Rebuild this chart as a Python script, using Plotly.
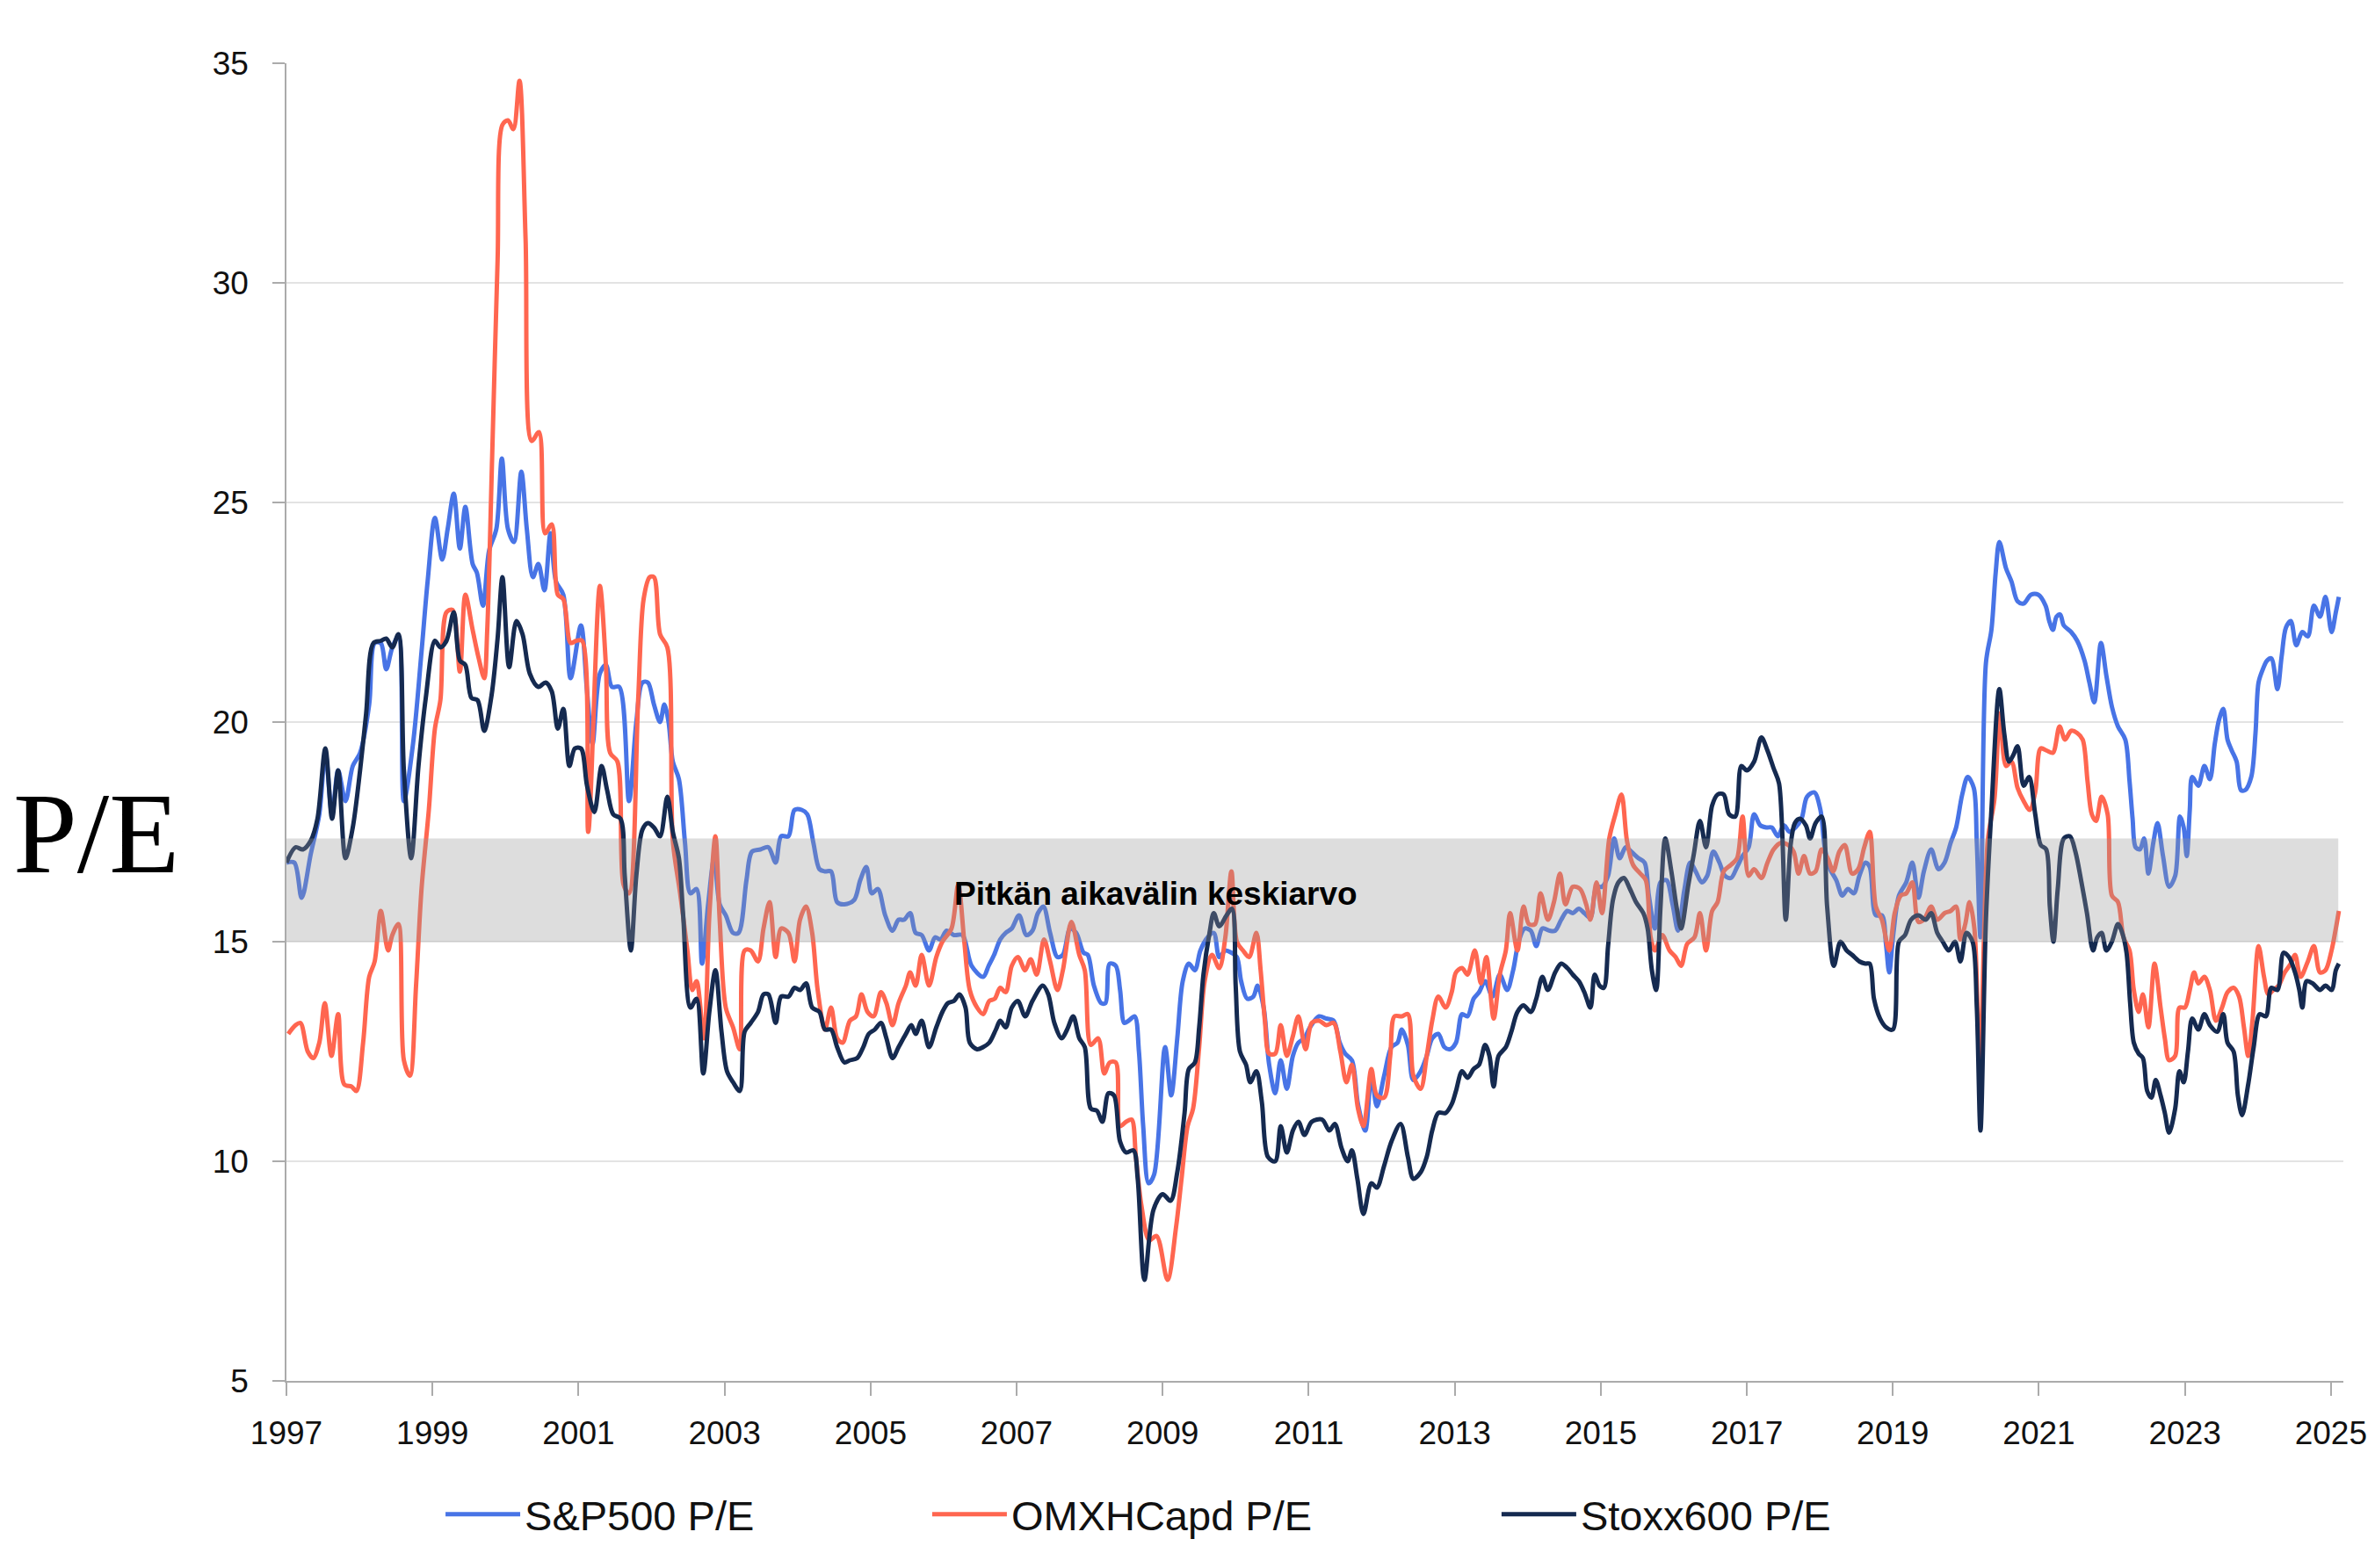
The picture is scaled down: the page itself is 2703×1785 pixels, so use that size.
import plotly.graph_objects as go

# ---- data (months since Jan 1997, P/E values) ----
sp_m = [0, 1.3, 2.5, 4, 5.4, 6.4, 7.5, 8.5, 9.7, 10.9, 12.1, 13.6, 14.5, 15.5, 16.4, 17.4, 18.4, 19.3, 20.8, 22.2,
        23.2, 24.4, 25.6, 26.5, 27.5, 28.5, 29.4, 30.6, 31.3, 32.3, 33.3, 34.5, 35.4, 36.4, 37.4, 38.6, 39.5, 40.5,
        41.4, 42.4, 43.4, 44.3, 45.5, 46.7, 48.4, 49.4, 50.3, 51.5, 52.5, 53.5, 54.7, 56.3, 57.5, 58.5, 59.4, 60.4,
        61.4, 62.1, 62.8, 63.5, 64.5, 65.5, 66.4, 67.4, 68.3, 69.3, 70.3, 71.2, 72.2, 73.4, 74.3, 75.6, 76.5, 77.9,
        79.2, 80.4, 81.3, 82.5, 83.5, 84.7, 85.6, 86.6, 87.6, 88.5, 89.5, 90.5, 91.7, 93.3, 94.3, 95.3, 96.2, 97.2,
        98.4, 99.6, 100.6, 101.5, 102.5, 103.4, 104.4, 105.6, 106.6, 107.5, 108.5, 109.7, 111.1, 112.6, 114.5, 115.4,
        116.3, 117.3, 118.2, 119.2, 120.4, 121.6, 122.6, 123.5, 124.4, 125.5, 126.7, 127.6, 128.8, 129.8, 131, 131.7,
        132.7, 133.9, 134.6, 135.3, 136.3, 137, 137.7, 138.4, 139.4, 140.1, 140.8, 141.7, 142.6, 144.4, 145.4, 146.4,
        147.3, 148.3, 149.3, 150.2, 151.4, 152.4, 153.3, 154.3, 155.3, 156.2, 156.9, 157.9, 158.9, 159.6, 160.6, 161.5,
        162.5, 163.4, 164.4, 165.4, 166.3, 167.3, 168.2, 169.7, 170.9, 172.1, 173.1, 174, 175.1, 176.1, 177.3, 178.3,
        179.2, 180.4, 181.6, 182.6, 183.3, 184.3, 185.2, 186.4, 187.4, 188.3, 189.3, 190.3, 191.2, 192.2, 193.2, 194.1,
        195.1, 196, 197, 198.2, 199.4, 200.6, 201.6, 202.5, 203.5, 204.5, 205.4, 206.4, 207.6, 208.5, 209.5, 210.5,
        211.4, 212.4, 213.3, 214.3, 215.3, 216.2, 217.2, 218.2, 219.1, 220.1, 221, 222.2, 223.2, 223.9, 224.9, 225.8,
        226.8, 227.8, 228.7, 229.7, 230.7, 231.6, 232.6, 233.5, 234.5, 235.5, 236.4, 237.4, 238.4, 239.3, 240.3, 241.2,
        242.2, 243.2, 244.1, 245.1, 246.1, 247, 248, 249, 249.9, 251.1, 252.1, 252.8, 253.7, 254.7, 255.7, 256.6,
        257.6, 258.5, 259.5, 260.2, 261.2, 262.2, 262.9, 263.4, 264.1, 265, 266.2, 267.2, 268.2, 269.1, 270.3, 271.5,
        272.5, 273.5, 274.4, 275.4, 276.3, 277.3, 277.8, 278.4, 279.3, 280.2, 280.9, 281.5, 282.6, 283.5, 284.5, 285.5,
        286.7, 287.9, 289.1, 289.7, 290.3, 290.9, 291.5, 292.1, 293.3, 294.3, 295.5, 296.3, 297.1, 298.2, 299.1, 300,
        301, 302.2, 302.9, 303.4, 303.9, 304.6, 305.3, 306, 306.8, 307.5, 308.4, 309.4, 310.4, 311.2, 311.8, 312.3,
        312.8, 313.2, 314.2, 315.2, 316.1, 316.9, 317.6, 318.3, 319.0, 319.7, 320.5, 321.2, 321.9, 322.9, 323.6, 324.1,
        324.8, 325.5, 326.2, 327.2, 327.9, 328.6, 329.4, 330.3, 331.3, 332.2, 333.2, 334.2, 335.1, 336.1, 336.8, 337.3]
sp_v = [16.8, 16.8, 16.0, 17.0, 17.9, 19.3, 17.9, 18.9, 18.2, 19.0, 19.3, 20.4, 21.8, 21.8, 21.2, 21.7, 21.95, 18.2, 19.5, 21.6,
        23.2, 24.65, 23.7, 24.4, 25.2, 23.95, 24.9, 23.6, 23.4, 22.65, 23.9, 24.4, 26.0, 24.4, 24.1, 25.7, 24.4, 23.3,
        23.6, 23.0, 24.3, 23.2, 22.9, 21.0, 22.2, 20.7, 19.5, 21.1, 21.3, 20.8, 20.8, 18.2, 20.0, 20.9, 20.9, 20.4,
        20.0, 20.4, 20.0, 19.1, 18.7, 17.25, 16.1, 16.2, 14.5, 15.85, 16.9, 15.85, 15.6, 15.2, 15.2, 16.4, 17.05, 17.1,
        17.15, 16.8, 17.4, 17.4, 18.0, 18.0, 17.9, 17.25, 16.65, 16.6, 16.6, 15.9, 15.85, 15.95, 16.4, 16.7, 16.1, 16.2,
        15.6, 15.25, 15.5, 15.5, 15.65, 15.2, 15.15, 14.8, 15.1, 15.05, 15.25, 15.15, 15.15, 14.45, 14.2, 14.45,
        14.7, 15.05, 15.2, 15.3, 15.6, 15.15, 15.25, 15.65, 15.8, 15.2, 14.65, 14.7, 15.3, 15.2, 14.75, 14.7,
        14.0, 13.6, 13.6, 14.5, 14.45, 13.9, 13.15, 13.2, 13.3, 12.5, 10.8, 9.5, 9.7, 12.6, 11.5, 12.8,
        14.1, 14.5, 14.35, 14.8, 15.1, 15.2, 14.65, 14.8, 14.75, 14.65, 14.1, 13.7, 13.75, 14.0, 13.5, 12.2,
        11.55, 12.3, 11.65, 12.4, 12.7, 12.8, 13.05, 13.3, 13.25, 13.2, 12.7, 12.45, 12.3, 11.3, 10.7, 11.95,
        11.25, 11.95, 12.6, 12.7, 13.0, 12.65, 11.85, 12.05, 12.4, 12.8, 12.9, 12.6, 12.55, 12.7, 13.35, 13.3,
        13.7, 13.85, 14.1, 13.75, 14.25, 13.9, 14.35, 15.0, 15.3, 15.25, 14.9, 15.3, 15.25, 15.25, 15.5, 15.7,
        15.65, 15.75, 15.65, 15.55, 16.25, 16.25, 16.5, 17.35, 16.9, 17.15, 17.05, 16.9, 16.8, 16.05, 15.3, 16.35,
        16.4, 15.85, 15.25, 16.15, 16.8, 16.6, 16.35, 16.5, 17.05, 16.8, 16.5, 16.45, 16.7, 16.95, 17.15, 17.9,
        17.65, 17.6, 17.6, 17.4, 17.65, 17.5, 17.6, 17.8, 18.3, 18.4, 18.0, 17.15, 16.65, 16.4, 16.05, 16.2,
        16.1, 16.5, 16.8, 16.7, 15.6, 15.6, 14.9, 14.3, 15.2, 16.05, 16.35, 16.8, 16.0, 16.6, 17.1, 16.65,
        16.8, 17.25, 17.6, 18.35, 18.75, 18.5, 17.25, 15.1, 21.35, 22.1, 23.4, 24.1, 23.5, 23.2, 22.75, 22.7,
        22.9, 22.9, 22.65, 22.3, 22.1, 22.4, 22.45, 22.2, 22.05, 21.85, 21.4, 20.9, 20.45, 21.8, 21.05, 20.35,
        19.9, 19.6, 18.65, 17.8, 17.15, 17.1, 17.35, 16.55, 17.25, 17.7, 16.95, 16.25, 16.5, 17.85, 17.6, 16.95,
        18.0, 18.75, 18.55, 19.0, 18.7, 19.5, 20.05, 20.3, 19.6, 19.35, 19.1, 18.45, 18.45, 18.75, 19.75, 20.9,
        21.2, 21.4, 21.45, 20.75, 21.5, 22.15, 22.3, 21.75, 22.05, 21.95, 22.65, 22.4, 22.85, 22.05, 22.5, 22.85]

omx_m = [0.3, 1.5, 2.3, 3.5, 4.4, 5.4, 6.3, 7.4, 8.5, 9.5, 10.7, 11.5, 12.6, 13.6, 14.5, 15.5, 16.7, 17.4, 18.4, 19.3,
         20.3, 21.3, 22.2, 23.4, 24.4, 25.3, 26.3, 27.3, 28.5, 29.4, 30.6, 31.6, 32.5, 33.0, 33.8, 34.7, 35.5, 36.4,
         37.3, 38.3, 39.3, 40.3, 41.5, 42.5, 43.6, 44.6, 45.5, 46.7, 47.6, 48.6, 49.6, 51.5, 52.5, 53.2, 54.4, 55.4,
         56.3, 57.8, 58.7, 59.7, 60.4, 61.4, 62.6, 63.5, 64.7, 65.9, 66.7, 67.4, 68.6, 69.5, 70.5, 71.2, 72.2, 73.4,
         74.5, 75.3, 76.3, 77.5, 78.4, 79.4, 80.4, 81.3, 82.5, 83.5, 84.4, 85.4, 86.4, 87.3, 88.5, 89.5, 90.5, 91.4,
         92.6, 93.6, 94.5, 95.5, 96.5, 97.7, 98.6, 99.6, 100.6, 101.8, 102.5, 103.4, 104.4, 105.6, 106.8, 107.8, 109.3,
         110.4, 111.4, 112.3, 113.5, 114.5, 115.5, 116.4, 117.3, 118.2, 119.2, 120.2, 121.4, 122.3, 123.3, 124.5, 125.5,
         126.7, 127.6, 129.0, 130.3, 131.2, 132.2, 133.4, 134.4, 135.3, 136.3, 137, 138, 138.9, 139.6, 140.5, 141.8,
         143.0, 144.8, 146.2, 147.1, 148.1, 149, 150, 150.9, 152.1, 153.3, 154.3, 155.3, 156.2, 157.2, 158.2, 159.4,
         160.1, 160.8, 161.5, 162.5, 163.4, 164.4, 165.4, 166.3, 167.5, 168.5, 169.7, 170.9, 172.1, 173.2, 174.2, 175.1,
         176.1, 177, 178.3, 179.2, 180.4, 181.4, 182.1, 183.3, 184.3, 185.2, 186.4, 187.4, 188.3, 189.3, 190.5, 191.5,
         192.2, 193.2, 194.1, 195.3, 196.3, 197.2, 198.4, 199.4, 200.4, 201.1, 202.3, 203.3, 204.2, 205.2, 206.1, 207.3,
         208.3, 209.3, 210.2, 211.4, 212.6, 213.6, 214.3, 215.3, 216.2, 217.4, 218.4, 219.4, 220.3, 221.3, 222.5, 223.4,
         224.2, 224.9, 226.1, 227.3, 228.3, 229.2, 230.2, 231.4, 232.3, 233.3, 234.3, 235.2, 236.2, 237.4, 238.4, 239.3,
         240.3, 241.2, 242.4, 243.4, 244.4, 245.6, 246.8, 247.7, 248.5, 249.4, 250.4, 251.3, 252.3, 253.3, 254.2, 255.2,
         256.1, 257.3, 258.3, 259.3, 260.2, 261.2, 262.2, 263.4, 264.3, 265.3, 266.2, 267.2, 268.2, 269.1, 270.3, 271.3,
         272.5, 273.5, 274.4, 275.1, 275.9, 276.6, 277.4, 278.3, 279.6, 280.7, 281.6, 282.6, 283.5, 284.5, 285.5, 286.5,
         287.4, 288.3, 289.3, 290.3, 291.4, 292.3, 293.3, 294.3, 295.2, 296.0, 296.7, 297.4, 298.3, 299.3, 300.0, 301.0,
         301.9, 302.9, 303.6, 304.4, 305.1, 306.0, 307.0, 308.0, 308.7, 309.4, 310.4, 311.1, 312.0, 312.8, 313.5, 314.2,
         315.2, 316.1, 317.1, 318.1, 319.0, 320.0, 320.9, 321.7, 322.4, 323.1, 324.1, 325.0, 325.7, 326.5, 327.4, 328.4,
         329.4, 330.1, 331.0, 332.2, 333.2, 334.2, 335.1, 336.1, 336.8, 337.3]
omx_v = [12.9, 13.1, 13.15, 12.5, 12.35, 12.7, 13.6, 12.4, 13.35, 11.75, 11.7, 11.6, 12.7, 14.2, 14.55, 15.7, 14.8, 15.15, 15.4, 12.3,
         11.95, 14.0, 16.2, 18.0, 19.85, 20.5, 22.5, 22.55, 21.15, 22.9, 22.1, 21.45, 21.0, 22.1, 26.0, 30.5, 33.6, 33.7,
         33.5, 34.6, 31.0, 26.4, 26.6, 24.3, 24.5, 22.9, 22.8, 21.8, 21.85, 21.85, 17.5, 23.1, 21.3, 19.3, 19.1, 16.3,
         16.1, 20.5, 22.8, 23.3, 23.3, 22.0, 21.7, 17.3, 16.1, 14.8, 13.9, 14.1, 12.8, 15.6, 17.4, 15.5, 13.5, 13.05,
         12.55, 14.8, 14.8, 14.55, 15.3, 15.9, 14.65, 15.3, 15.2, 14.55, 15.5, 15.8, 15.2, 13.9, 13.0, 13.5, 12.8, 12.7,
         13.2, 13.3, 13.8, 13.4, 13.3, 13.85, 13.6, 13.1, 13.6, 14.0, 14.3, 14.0, 14.7, 14.0, 14.65, 15.0, 15.3,
         16.3, 15.0, 13.9, 13.5, 13.35, 13.65, 13.7, 13.95, 13.85, 14.45, 14.65, 14.35, 14.6, 14.25, 15.05, 14.55,
         13.9, 14.35, 15.45, 14.7, 14.35, 12.65, 12.8, 12.0, 12.25, 12.25, 10.8, 10.9, 10.95, 10.1, 9.0, 8.2,
         8.3, 7.3, 8.5, 9.6, 10.8, 11.2, 12.6, 14.1, 14.7, 14.4, 15.1, 16.6, 15.0, 14.8, 14.65, 15.2,
         14.35, 13.2, 12.45, 12.45, 13.1, 12.4, 12.85, 13.3, 12.55, 13.15, 13.2, 13.1, 13.15, 12.5, 11.8, 12.2,
         11.2, 10.8, 12.1, 11.5, 11.45, 12.4, 13.3, 13.3, 13.35, 11.95, 11.65, 12.4, 13.2, 13.75, 13.5, 13.85,
         14.3, 14.4, 14.25, 14.8, 14.05, 14.65, 13.25, 14.25, 14.8, 15.65, 14.8, 15.8, 15.4, 15.4, 16.1, 15.5,
         15.9, 16.55, 15.85, 16.25, 16.2, 15.85, 15.5, 16.35, 15.65, 17.35, 17.9, 18.35, 17.3, 16.75, 16.55, 16.4,
         15.1, 14.8, 15.15, 14.8, 14.65, 14.45, 14.95, 15.1, 15.65, 14.8, 15.7, 15.9, 16.6, 16.75, 16.9, 17.85,
         16.5, 16.65, 16.45, 16.8, 17.1, 17.25, 17.2, 17.05, 16.55, 16.95, 16.55, 16.6, 17.1, 16.9, 16.6, 17.05,
         17.2, 16.55, 16.65, 17.15, 17.5, 15.8, 15.5, 14.8, 15.65, 16.05, 16.1, 16.35, 15.45, 15.5, 15.8, 15.5,
         15.65, 15.7, 15.8, 15.05, 15.4, 15.9, 15.3, 12.1, 17.3, 18.25, 20.2, 19.0, 19.1, 18.5, 18.2, 18.0,
         18.4, 19.4, 19.35, 19.3, 19.9, 19.6, 19.8, 19.75, 19.6, 18.65, 17.9, 17.75, 18.3, 17.9, 16.05, 15.9,
         15.1, 14.8, 13.9, 13.4, 13.8, 13.05, 14.5, 13.5, 12.8, 12.3, 12.4, 13.5, 13.5, 13.9, 14.3, 14.05,
         14.2, 13.9, 13.2, 13.5, 13.85, 13.95, 13.75, 13.05, 12.4, 13.2, 14.9, 14.2, 13.8, 13.9, 14.0, 14.3,
         14.5, 14.7, 14.2, 14.55, 14.9, 14.3, 14.35, 14.8, 15.3, 15.7]

stoxx_m = [0, 1.5, 2.7, 4, 5.1, 6.4, 7.5, 8.5, 9.7, 10.9, 12.1, 13.1, 14.3, 15.5, 16.4, 17.4, 18.4, 19.3, 20.5, 21.7,
           22.9, 24.4, 25.3, 26.3, 27.5, 28.5, 29.4, 30.4, 31.4, 32.5, 33.7, 34.7, 35.5, 36.6, 37.8, 38.8, 40, 41.4,
           42.6, 43.6, 44.6, 45.5, 46.5, 47.4, 48.4, 49.4, 50.6, 51.8, 52.7, 53.7, 54.9, 55.6, 56.6, 57.5, 58.5, 59.4,
           60.4, 61.4, 62.6, 63.5, 64.5, 65.2, 66.4, 67.4, 68.5, 69.5, 70.5, 71.5, 72.4, 73.4, 74.5, 75.3, 76.3, 77.5,
           78.4, 79.2, 80.4, 81.3, 82.5, 83.5, 84.4, 85.4, 86.4, 87.6, 88.5, 89.5, 90.5, 91.7, 92.6, 93.8, 94.8, 95.7,
           96.7, 97.7, 98.6, 99.6, 100.6, 101.8, 102.7, 103.4, 104.4, 105.6, 106.8, 107.8, 108.7, 109.7, 110.6, 111.6,
           112.3, 113.5, 114.5, 115.5, 116.6, 117.3, 118.2, 119.2, 120.2, 121.4, 122.6, 124.3, 125.2, 126.2, 127.4, 128.3,
           129.3, 130.3, 131.2, 132.2, 133.2, 134.1, 135.1, 136.0, 137, 138, 139.2, 139.9, 141.0, 142.5, 144.0, 145.3,
           146.4, 147.6, 148.3, 149.3, 150.0, 150.7, 151.7, 152.4, 153.3, 154.5, 155.4, 156.0, 156.7, 157.7, 158.4, 159.4,
           160.3, 161.3, 162.5, 163.4, 164.4, 165.4, 166.3, 167.3, 168.5, 170.2, 171.4, 172.3, 173.4, 174.4, 175.1, 176.0,
           177.0, 178.3, 179.2, 180.4, 181.6, 183.1, 184.3, 185.2, 186.4, 187.4, 188.3, 189.3, 190.5, 191.5, 192.2, 193.2,
           194.1, 195.1, 196.0, 197.0, 197.7, 198.4, 199.2, 200.4, 201.3, 202.3, 203.3, 204.5, 205.4, 206.4, 207.3, 208.5,
           209.5, 210.5, 211.4, 212.4, 213.3, 214.3, 215.0, 215.8, 216.5, 217.2, 218.0, 218.9, 219.8, 220.8, 221.8, 223.0,
           223.7, 224.4, 225.1, 225.8, 226.6, 227.6, 228.5, 229.2, 230.4, 231.3, 232.3, 233.3, 234.3, 235.2, 236.2, 237.1,
           238.1, 239.1, 240.0, 241.2, 242.4, 243.4, 244.4, 245.3, 246.4, 247.2, 247.9, 248.7, 249.7, 250.4, 251.3, 252.3,
           253.2, 254.3, 255.4, 256.4, 257.3, 258.5, 259.5, 260.2, 260.9, 261.9, 262.9, 264.0, 265.0, 266.0, 267.0, 268.2,
           269.4, 270.3, 271.3, 272.2, 273.2, 274.2, 275.1, 276.1, 277.1, 277.8, 278.4, 279.3, 280.2, 281.5, 282.3, 283.1,
           283.8, 284.5, 285.5, 286.4, 287.4, 288.3, 289.2, 289.8, 290.4, 291.1, 292.1, 293.1, 294.0, 295.0, 295.9, 296.9,
           297.6, 298.3, 299.1, 300.0, 301.0, 301.7, 302.4, 303.0, 303.6, 304.4, 305.1, 305.8, 306.5, 307.2, 308.0, 308.7,
           309.4, 310.4, 311.1, 311.8, 312.5, 313.2, 314.2, 315.2, 316.1, 317.3, 318.3, 319.0, 320.0, 320.7, 321.4, 322.4,
           323.3, 324.3, 325.3, 326.2, 327.2, 328.2, 329.1, 330.1, 330.8, 331.3, 332.0, 333.0, 334.2, 335.1, 336.1, 336.8,
           337.3]
stoxx_v = [16.8, 17.15, 17.1, 17.3, 17.8, 19.4, 17.8, 18.9, 16.9, 17.6, 18.9, 20.2, 21.8, 21.85, 21.9, 21.7, 22.0, 18.9, 16.9, 19.0,
           20.55, 21.85, 21.7, 21.85, 22.5, 21.4, 21.3, 20.55, 20.5, 19.8, 20.6, 21.9, 23.3, 21.25, 22.3, 22.0, 21.1, 20.8,
           20.9, 20.7, 19.85, 20.3, 19.0, 19.4, 19.4, 18.55, 17.95, 19.0, 18.45, 17.9, 17.8, 16.5, 14.8, 16.5, 17.55, 17.7,
           17.6, 17.4, 18.3, 17.5, 16.9, 15.6, 13.5, 13.7, 12.0, 13.4, 14.35, 12.95, 12.05, 11.8, 11.6, 12.95, 13.15, 13.4,
           13.8, 13.8, 13.15, 13.75, 13.75, 13.95, 13.9, 14.05, 13.5, 13.4, 13.0, 13.0, 12.6, 12.25, 12.3, 12.35, 12.6, 12.9,
           13.0, 13.15, 12.8, 12.35, 12.6, 12.9, 13.1, 12.9, 13.2, 12.6, 13.05, 13.4, 13.6, 13.65, 13.8, 13.5,
           12.7, 12.55, 12.6, 12.7, 13.0, 13.2, 13.05, 13.5, 13.65, 13.3, 13.65, 14.0, 13.8, 13.15, 12.8, 13.0,
           13.3, 12.8, 12.6, 11.2, 11.15, 10.9, 11.55, 11.5, 10.45, 10.2, 10.25, 9.6, 7.3, 8.9, 9.25, 9.1,
           9.75, 11.1, 12.1, 12.25, 13.05, 14.25, 15.2, 15.65, 15.35, 15.6, 15.75, 14.0, 12.5, 12.2, 11.8, 12.05,
           11.35, 10.1, 10.0, 10.8, 10.2, 10.7, 10.9, 10.6, 10.9, 10.95, 10.7, 10.85, 10.3, 10.0, 10.25, 9.6,
           8.8, 9.5, 9.4, 9.9, 10.45, 10.85, 10.1, 9.6, 9.75, 10.1, 10.7, 11.1, 11.1, 11.3, 11.6, 12.05,
           11.9, 12.1, 12.2, 12.65, 12.4, 11.7, 12.4, 12.6, 12.95, 13.4, 13.55, 13.4, 13.7, 14.2, 13.9, 14.3,
           14.5, 14.4, 14.25, 14.1, 13.85, 13.5, 14.25, 14.0, 13.95, 14.9, 15.95, 16.35, 16.45, 16.2, 15.9, 15.65,
           15.3, 14.35, 13.9, 15.75, 17.35, 16.6, 15.75, 15.3, 16.3, 17.0, 17.75, 17.15, 18.1, 18.35, 18.35, 17.9,
           17.85, 19.0, 18.9, 19.1, 19.65, 19.35, 18.95, 18.6, 15.5, 17.2, 17.7, 17.8, 17.65, 17.35, 17.7, 17.85,
           15.8, 14.45, 15.0, 14.8, 14.7, 14.55, 14.5, 14.5, 13.7, 13.25, 13.05, 13.0, 15.0, 15.15, 15.5, 15.6,
           15.5, 15.65, 15.2, 15.0, 14.8, 15.0, 14.55, 15.2, 15.0, 13.5, 10.7, 15.5, 18.0, 20.75, 19.75, 19.1,
           19.25, 19.45, 18.55, 18.75, 17.9, 17.2, 17.1, 15.8, 15.0, 16.2, 17.35, 17.4, 17.05, 16.35, 15.65, 14.8,
           15.1, 15.2, 14.8, 15.0, 15.4, 15.2, 14.75, 13.6, 12.7, 12.45, 12.35, 11.6, 11.45, 11.85, 11.5, 11.1,
           10.65, 11.2, 12.05, 11.8, 12.5, 13.25, 13.0, 13.35, 13.1, 12.95, 13.35, 12.7, 12.5, 11.5, 11.05, 11.75,
           12.6, 13.35, 13.3, 13.95, 13.9, 14.75, 14.65, 14.3, 13.9, 13.5, 14.1, 14.05, 13.9, 14.0, 13.9, 14.35,
           14.5]

series_names = ["S&P500 P/E", "OMXHCapd P/E", "Stoxx600 P/E"]
series_colors = ["#4874E6", "#FF6650", "#152A50"]
year_ticks = list(range(1997, 2026, 2))
band_low, band_high = 15.0, 17.35
band_label = "Pitkän aikavälin keskiarvo"


def to_year(months):
    return [1997 + mm / 12.0 for mm in months]


fig = go.Figure()
legends = ["legend", "legend2", "legend3"]
for name, color, mm, vv, lg in zip(series_names, series_colors,
                                   [sp_m, omx_m, stoxx_m], [sp_v, omx_v, stoxx_v], legends):
    fig.add_trace(go.Scatter(
        x=to_year(mm), y=vv, mode="lines", name=name, legend=lg, showlegend=True,
        line=dict(color=color, width=5, shape="spline", smoothing=0.9),
    ))

# long-term average band (semi-transparent, drawn over the lines)
fig.add_shape(type="rect", xref="x", yref="y", x0=1997, x1=2025.1, y0=band_low, y1=band_high,
              fillcolor="rgba(150,150,150,0.32)", line=dict(width=0), layer="above")

fig.add_annotation(x=2008.91, y=16.1, xref="x", yref="y", text="<b>" + band_label + "</b>",
                   showarrow=False, font=dict(family="Liberation Sans, Arial, sans-serif", size=37, color="#000"),
                   xanchor="center", yanchor="middle")

fig.add_annotation(x=-0.0925, y=0.416, xref="paper", yref="paper", text="P/E", showarrow=False,
                   font=dict(family="Liberation Serif, Times New Roman, serif", size=131, color="#000"),
                   xanchor="center", yanchor="middle")

axis_font = dict(family="Liberation Sans, Arial, sans-serif", size=37, color="#111")
legend_font = dict(family="Liberation Sans, Arial, sans-serif", size=47, color="#111")
leg_y = -0.1014

fig.update_layout(
    width=2703, height=1785, autosize=False, showlegend=True,
    margin=dict(l=318, r=44, t=64, b=221),
    paper_bgcolor="white", plot_bgcolor="white",
    xaxis=dict(range=[1997, 2025.17], tickmode="array", tickvals=year_ticks,
               ticktext=[str(y) for y in year_ticks], showgrid=False, zeroline=False,
               showline=True, linecolor="#ABABAB", linewidth=1.5,
               ticks="outside", ticklen=15, tickwidth=1.5, tickcolor="#ABABAB",
               tickfont=axis_font, ticklabelstandoff=11),
    yaxis=dict(range=[5, 35], tickmode="linear", tick0=5, dtick=5, showgrid=True,
               gridcolor="#E3E3E3", gridwidth=1.5, zeroline=False,
               showline=True, linecolor="#ABABAB", linewidth=1.5,
               ticks="outside", ticklen=14, tickwidth=1.5, tickcolor="#ABABAB",
               tickfont=axis_font, ticklabelstandoff=20),
    legend=dict(orientation="h", x=0.0752, y=leg_y, xanchor="left", yanchor="middle",
                font=legend_font, itemwidth=85, bgcolor="rgba(0,0,0,0)", visible=True),
    legend2=dict(orientation="h", x=0.3118, y=leg_y, xanchor="left", yanchor="middle",
                 font=legend_font, itemwidth=85, bgcolor="rgba(0,0,0,0)", visible=True),
    legend3=dict(orientation="h", x=0.5886, y=leg_y, xanchor="left", yanchor="middle",
                 font=legend_font, itemwidth=85, bgcolor="rgba(0,0,0,0)", visible=True),
)

fig.write_html("out.html")
